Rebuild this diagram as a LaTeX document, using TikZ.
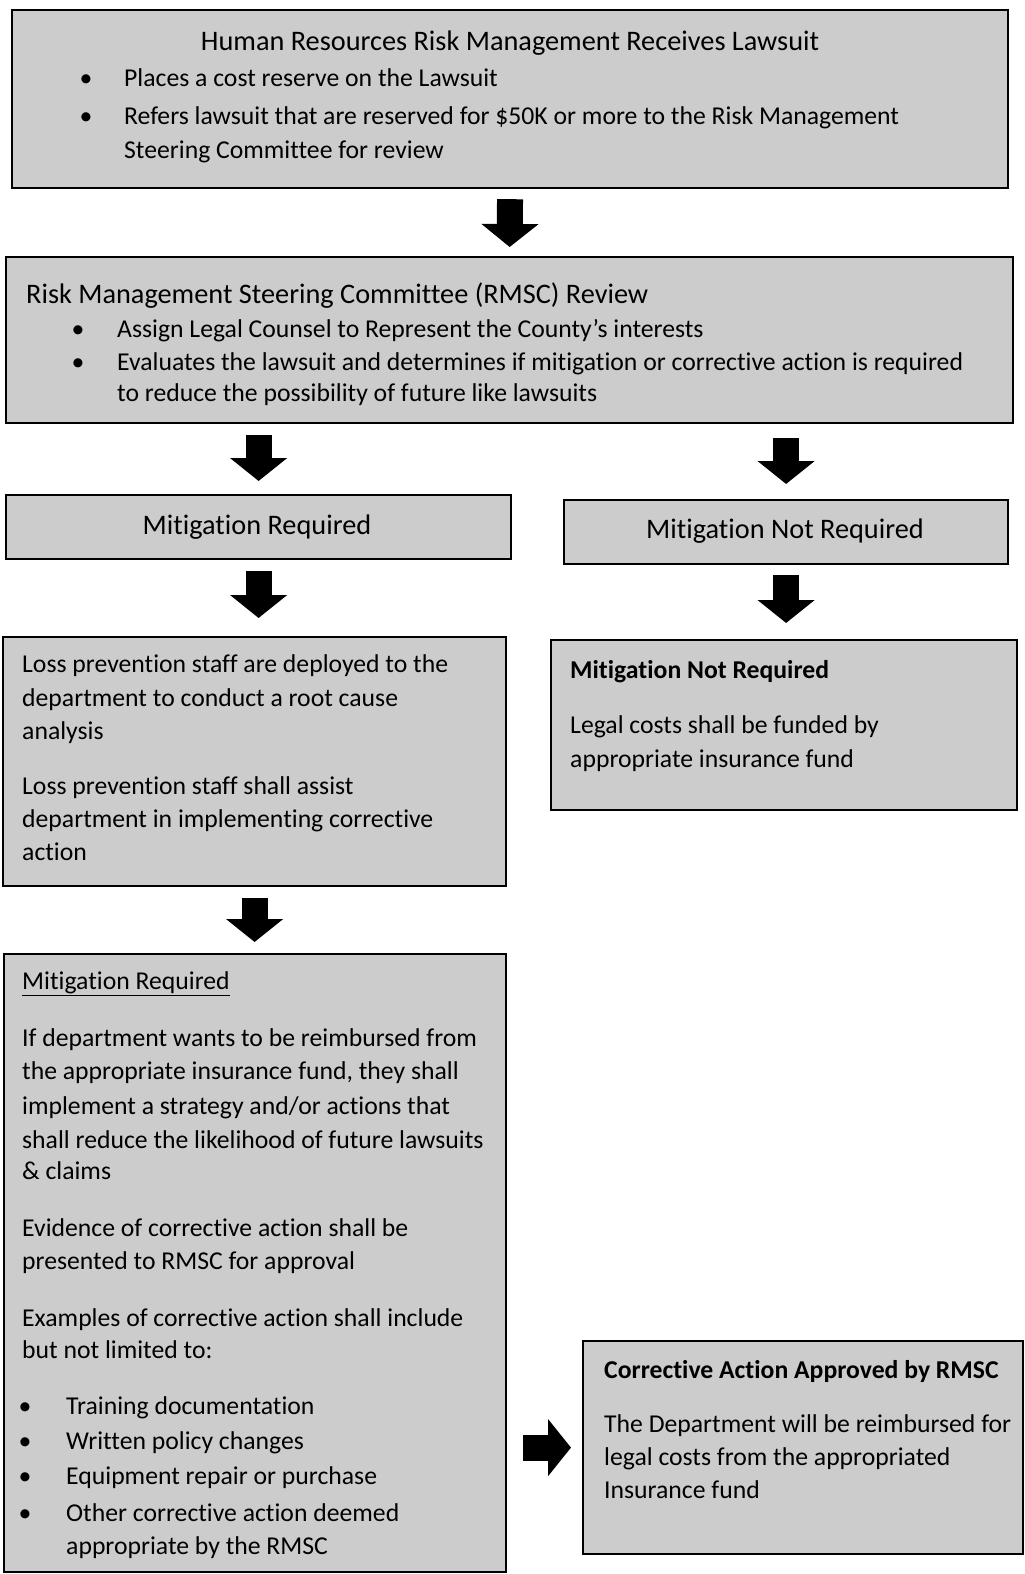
\documentclass[tikz,border=0pt]{standalone}
\usepackage{fontspec}
\setmainfont{Carlito}[Ligatures=NoCommon]
\usetikzlibrary{arrows.meta,calc}
\definecolor{boxgray}{RGB}{204,204,204}
\newcommand{\bdsize}{\fontsize{25.7}{33}\selectfont}
\newcommand{\hdsize}{\fontsize{28.3}{34}\selectfont}
\begin{document}
\begin{tikzpicture}[x=1pt,y=-1pt,
  box/.style={draw=black, line width=2.2pt, fill=boxgray, inner sep=0pt, anchor=north west},
  blk/.style={draw=black, line width=26pt, -{Triangle[width=56pt,length=23pt]}},
  tx/.style={anchor=base west, inner sep=0pt, font=\bdsize},
  hx/.style={anchor=base west, inner sep=0pt, font=\hdsize},
  hc/.style={anchor=base, inner sep=0pt, font=\hdsize},
  bul/.style={anchor=base, inner sep=0pt, font=\bdsize},
]
\fill[white] (0,0) rectangle (1025,1574);
\useasboundingbox (0,0) rectangle (1025,1574);

% boxes
\node[box, minimum width=996pt, minimum height=178pt] (b1) at (11,9) {};
\node[box, minimum width=1007pt, minimum height=166pt] (b2) at (5,256) {};
\node[box, minimum width=505pt, minimum height=64pt] (mr) at (5,494) {};
\node[box, minimum width=444pt, minimum height=64pt] (mnr) at (563,499) {};
\node[box, minimum width=503pt, minimum height=249pt] (lp) at (2,636) {};
\node[box, minimum width=466pt, minimum height=170pt] (mnrb) at (550,639) {};
\node[box, minimum width=502pt, minimum height=618pt] (mrb) at (3,953) {};
\node[box, minimum width=440pt, minimum height=213pt] (ca) at (582,1340) {};

% box 1 text
\node[hc] (t1) at (510,50) {Human Resources Risk Management Receives Lawsuit};
\node[bul] (t1b1) at (86,86) {\textbullet};
\node[tx] (t1a) at (124,86) {Places a cost reserve on the Lawsuit};
\node[bul] (t1b2) at (86,124) {\textbullet};
\node[tx] (t1c) at (124,124) {Refers lawsuit that are reserved for \$50K or more to the Risk Management};
\node[tx] (t1d) at (124,158) {Steering Committee for review};

% box 2 text
\node[hx] (t2) at (26,303) {Risk Management Steering Committee (RMSC) Review};
\node[bul] (t2b1) at (78,337) {\textbullet};
\node[tx] (t2a) at (117,337) {Assign Legal Counsel to Represent the County’s interests};
\node[bul] (t2b2) at (78,370) {\textbullet};
\node[tx] (t2c) at (117,370) {Evaluates the lawsuit and determines if mitigation or corrective action is required};
\node[tx] (t2d) at (117,401) {to reduce the possibility of future like lawsuits};

% decision boxes
\node[hc] (tmr) at (257,534) {Mitigation Required};
\node[hc] (tmnr) at (785,538) {Mitigation Not Required};

% loss prevention box
\node[tx] (l1) at (22,672) {Loss prevention staff are deployed to the};
\node[tx] (l2) at (22,706) {department to conduct a root cause};
\node[tx] (l3) at (22,739) {analysis};
\node[tx] (l4) at (22,794) {Loss prevention staff shall assist};
\node[tx] (l5) at (22,827) {department in implementing corrective};
\node[tx] (l6) at (22,860) {action};

% mitigation not required box
\node[tx] (n1) at (570,678) {\bfseries Mitigation Not Required};
\node[tx] (n2) at (570,733) {Legal costs shall be funded by};
\node[tx] (n3) at (570,767) {appropriate insurance fund};

% mitigation required box
\node[tx] (m0) at (22,989) {\underline{Mitigation Required}};
\node[tx] (m1) at (22,1046) {If department wants to be reimbursed from};
\node[tx] (m2) at (22,1079) {the appropriate insurance fund, they shall};
\node[tx] (m3) at (22,1114) {implement a strategy and/or actions that};
\node[tx] (m4) at (22,1148) {shall reduce the likelihood of future lawsuits};
\node[tx] (m5) at (22,1179) {\& claims};
\node[tx] (m6) at (22,1236) {Evidence of corrective action shall be};
\node[tx] (m7) at (22,1269) {presented to RMSC for approval};
\node[tx] (m8) at (22,1326) {Examples of corrective action shall include};
\node[tx] (m9) at (22,1358) {but not limited to:};
\node[bul] (mb1) at (25,1414) {\textbullet};
\node[tx] (m10) at (66,1414) {Training documentation};
\node[bul] (mb2) at (25,1449) {\textbullet};
\node[tx] (m11) at (66,1449) {Written policy changes};
\node[bul] (mb3) at (25,1484) {\textbullet};
\node[tx] (m12) at (66,1484) {Equipment repair or purchase};
\node[bul] (mb4) at (25,1521) {\textbullet};
\node[tx] (m13) at (66,1521) {Other corrective action deemed};
\node[tx] (m14) at (66,1554) {appropriate by the RMSC};

% corrective action box
\node[tx] (c1) at (604,1378) {\bfseries Corrective Action Approved by RMSC};
\node[tx] (c2) at (604,1432) {The Department will be reimbursed for};
\node[tx] (c3) at (604,1465) {legal costs from the appropriated};
\node[tx] (c4) at (604,1498) {Insurance fund};

% block arrows
\draw[blk, shorten <=10pt, shorten >=9pt] (b1.south) -- (b2.north);
\draw[blk, shorten <=11pt, shorten >=13pt] (mr.north |- b2.south) -- (mr.north);
\draw[blk, shorten <=14pt, shorten >=15pt] (mnr.north |- b2.south) -- (mnr.north);
\draw[blk, shorten <=11pt, shorten >=18pt] (mr.south) -- (mr.south |- lp.north);
\draw[blk, shorten <=10pt, shorten >=16pt] (mnr.south) -- (mnr.south |- mnrb.north);
\draw[blk, shorten <=11pt, shorten >=11pt] (lp.south) -- (lp.south |- mrb.north);
\draw[blk, shorten <=16pt, shorten >=11pt] (mrb.east |- ca.west) -- (ca.west);
\end{tikzpicture}
\end{document}
